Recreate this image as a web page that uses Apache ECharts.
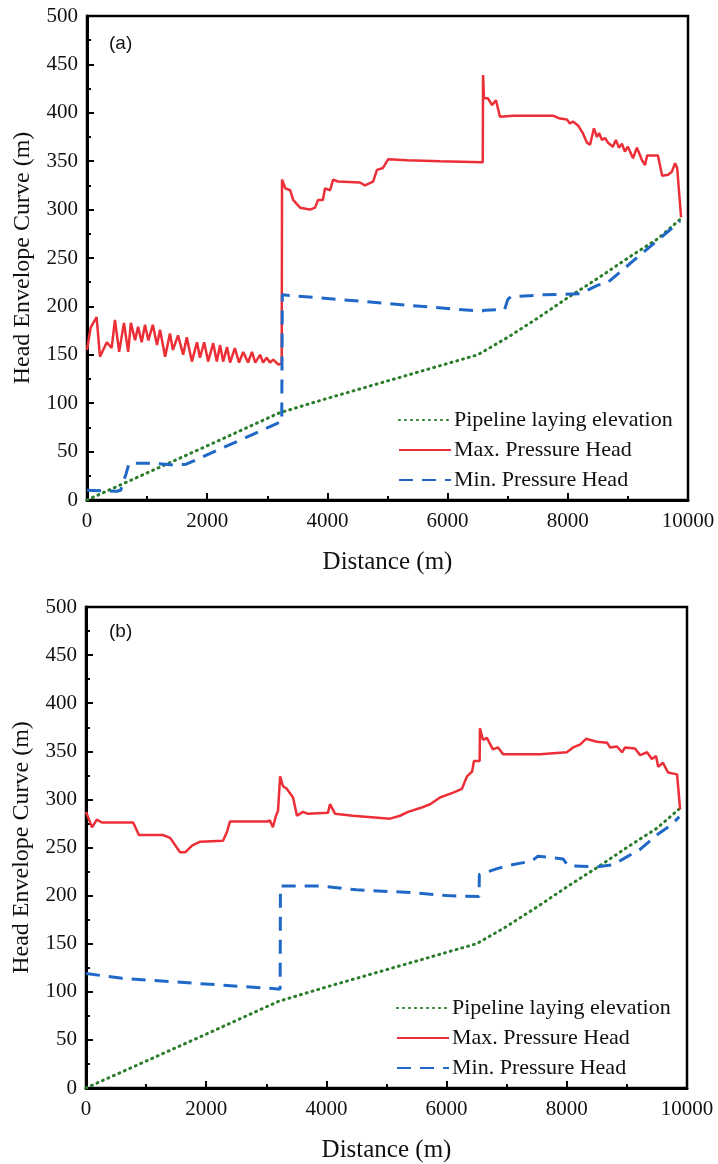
<!DOCTYPE html>
<html>
<head>
<meta charset="utf-8">
<title>Head Envelope Curve</title>
<script src="https://cdn.jsdelivr.net/npm/echarts@6.0.0/dist/echarts.min.js"></script>
<style>
  html, body { margin: 0; padding: 0; background: #fff; }
  #chart { width: 718px; height: 1164px; }
</style>
</head>
<body>
<div id="chart"></div>
<script>
// pipeline laying elevation (same profile in both panels), [distance, head]
const elevation = [
  [0, 0], [1000, 28], [2000, 56], [3200, 90], [4000, 105], [5000, 123], [6000, 141],
  [6500, 150], [7000, 168], [7500, 188], [8000, 209], [8500, 229], [9000, 250],
  [9500, 270], [9870, 290]
]

// panel (a)
const maxHeadA = [
  [0, 155], [60, 178], [160, 189], [216, 148], [330, 163], [410, 157], [465, 186], [535, 153],
  [615, 183], [685, 153], [730, 183], [800, 165], [850, 179], [910, 163], [965, 181], [1020, 165],
  [1095, 181], [1165, 160], [1215, 176], [1300, 148], [1380, 172], [1430, 155], [1515, 170],
  [1600, 150], [1660, 168], [1745, 143], [1830, 163], [1880, 147], [1950, 163], [2015, 143],
  [2100, 162], [2160, 143], [2215, 160], [2265, 143], [2330, 158], [2380, 142], [2460, 157],
  [2530, 142], [2600, 153], [2680, 142], [2745, 153], [2800, 142], [2880, 150], [2930, 142],
  [2990, 147], [3045, 142], [3100, 145], [3180, 140], [3240, 141],
  [3245, 331], [3300, 322], [3380, 320], [3430, 310], [3545, 302], [3710, 300], [3795, 302],
  [3845, 310], [3925, 310], [3960, 322], [4045, 320], [4095, 331], [4175, 329], [4540, 328],
  [4625, 325], [4760, 329], [4825, 341], [4925, 343], [5010, 352], [5325, 351], [5875, 350],
  [6585, 349], [6590, 439], [6605, 415], [6670, 415], [6740, 408], [6805, 413], [6870, 396],
  [7090, 397], [7755, 397], [7870, 394], [7985, 393], [8035, 389], [8085, 391], [8170, 387],
  [8250, 379], [8320, 369], [8370, 367], [8435, 384], [8485, 375], [8520, 379], [8570, 372],
  [8620, 374], [8670, 369], [8750, 365], [8800, 372], [8850, 364], [8900, 368], [8950, 360],
  [9000, 365], [9085, 353], [9150, 364], [9235, 351], [9285, 346], [9320, 356], [9500, 356],
  [9570, 335], [9670, 336], [9730, 339], [9785, 348], [9820, 343], [9885, 292]
]
const minHeadA = [
  [0, 10], [500, 9], [560, 10], [650, 27], [700, 38], [1100, 38], [1300, 37], [1450, 36],
  [1650, 37], [3200, 80], [3240, 80], [3250, 212], [6550, 195], [6620, 196], [6950, 197],
  [7000, 207], [7050, 210], [7600, 212], [8200, 213], [8500, 222], [8650, 224], [9870, 288]
]

// panel (b)
const maxHeadB = [
  [0, 287], [100, 271], [180, 279], [265, 276], [785, 276], [880, 263], [1280, 263], [1400, 260],
  [1565, 245], [1650, 245], [1765, 252], [1900, 256], [2280, 257], [2345, 266], [2395, 277],
  [3010, 277], [3060, 278], [3110, 271], [3160, 283], [3195, 288], [3230, 324], [3275, 314],
  [3340, 311], [3445, 302], [3510, 283], [3610, 287], [3695, 285], [4025, 286], [4060, 295],
  [4090, 293], [4145, 285], [4440, 283], [5060, 280], [5225, 283], [5360, 287], [5560, 291],
  [5725, 295], [5890, 302], [6110, 307], [6255, 311], [6340, 324], [6425, 329], [6455, 340],
  [6550, 340], [6555, 374], [6605, 362], [6670, 364], [6770, 352], [6855, 354], [6940, 347],
  [7555, 347], [8000, 349], [8105, 354], [8220, 357], [8320, 363], [8500, 360], [8670, 359],
  [8720, 354], [8835, 355], [8920, 349], [8970, 354], [9135, 353], [9220, 346], [9335, 349],
  [9415, 342], [9485, 345], [9520, 334], [9600, 338], [9685, 328], [9835, 326], [9885, 290]
]
const minHeadB = [
  [0, 119], [600, 114], [3195, 103], [3230, 103], [3235, 210], [3900, 210], [4500, 206],
  [5450, 203], [6000, 200], [6540, 199], [6545, 222], [6840, 228], [7090, 232], [7420, 236],
  [7520, 241], [7670, 240], [7940, 238], [8020, 231], [8500, 230], [8770, 232], [9020, 241],
  [9220, 248], [9520, 264], [9750, 274], [9870, 282]
]

const seriesNames = ['Pipeline laying elevation', 'Max. Pressure Head', 'Min. Pressure Head']

const serif = '"Liberation Serif", "Times New Roman", serif'

const grids = [
  { left: 87, top: 16, width: 601, height: 484 },
  { left: 86, top: 607, width: 601, height: 483 }
]

const makeX = (i) => ({
  type: 'value', gridIndex: i, min: 0, max: 10000, interval: 2000,
  name: 'Distance (m)', nameLocation: 'middle', nameGap: 50,
  nameTextStyle: { fontFamily: serif, fontSize: 25, color: '#111' },
  axisLine: { show: true, onZero: false, lineStyle: { color: '#000', width: 3 } },
  axisTick: { show: true, inside: true, length: 7, lineStyle: { color: '#000', width: 2 } },
  minorTick: { show: true, splitNumber: 2, length: 4, lineStyle: { color: '#000', width: 2 } },
  axisLabel: { fontFamily: serif, fontSize: 21, color: '#111', margin: 11, formatter: (v) => String(v) },
  splitLine: { show: false }
})

const makeY = (i) => ({
  type: 'value', gridIndex: i, min: 0, max: 500, interval: 50,
  name: 'Head Envelope Curve (m)', nameLocation: 'middle', nameGap: 52,
  nameTextStyle: { fontFamily: serif, fontSize: 24, color: '#111' },
  axisLine: { show: true, onZero: false, lineStyle: { color: '#000', width: 3 } },
  axisTick: { show: true, inside: true, length: 7, lineStyle: { color: '#000', width: 2 } },
  minorTick: { show: true, splitNumber: 2, length: 4, lineStyle: { color: '#000', width: 2 } },
  axisLabel: { fontFamily: serif, fontSize: 21, color: '#111', margin: 9, formatter: (v) => String(v) },
  splitLine: { show: false }
})

const lineSeries = (i, elev, maxH, minH) => [
  {
    name: seriesNames[0], type: 'line', xAxisIndex: i, yAxisIndex: i, data: elev,
    symbol: 'none', z: 2,
    lineStyle: { color: '#2b7d2b', width: 3, type: [1, 5], cap: 'round' },
    itemStyle: { color: '#2b7d2b' }
  },
  {
    name: seriesNames[1], type: 'line', xAxisIndex: i, yAxisIndex: i, data: maxH,
    symbol: 'none', z: 3,
    lineStyle: { color: '#ec2f36', width: 2.5 },
    itemStyle: { color: '#ec2f36' }
  },
  {
    name: seriesNames[2], type: 'line', xAxisIndex: i, yAxisIndex: i, data: minH,
    symbol: 'none', z: 3,
    lineStyle: { color: '#1f68c7', width: 3, type: [14, 9] },
    itemStyle: { color: '#1f68c7' }
  }
]

const makeLegend = (left, top) => ({
  orient: 'vertical', left: left, top: top, data: seriesNames,
  itemWidth: 52, itemHeight: 14, itemGap: 8,
  itemStyle: { opacity: 0 },
  textStyle: { fontFamily: serif, fontSize: 22, color: '#111', padding: [0, 0, 0, -2] },
  selectedMode: false
})

const chart = echarts.init(document.getElementById('chart'))
chart.setOption({
  animation: false,
  backgroundColor: '#fff',
  grid: grids.map(g => ({ ...g, show: true, borderColor: '#000', borderWidth: 2.5, backgroundColor: 'transparent' })),
  xAxis: [makeX(0), makeX(1)],
  yAxis: [makeY(0), makeY(1)],
  legend: [makeLegend(393, 404), makeLegend(391, 992)],
  graphic: [
    { type: 'text', left: 109, top: 34, style: { text: '(a)', font: '19px "Liberation Sans", Arial, sans-serif', fill: '#111' } },
    { type: 'text', left: 109, top: 622, style: { text: '(b)', font: '19px "Liberation Sans", Arial, sans-serif', fill: '#111' } }
  ],
  series: [
    ...lineSeries(0, elevation, maxHeadA, minHeadA),
    ...lineSeries(1, elevation, maxHeadB, minHeadB)
  ]
})
</script>
</body>
</html>
